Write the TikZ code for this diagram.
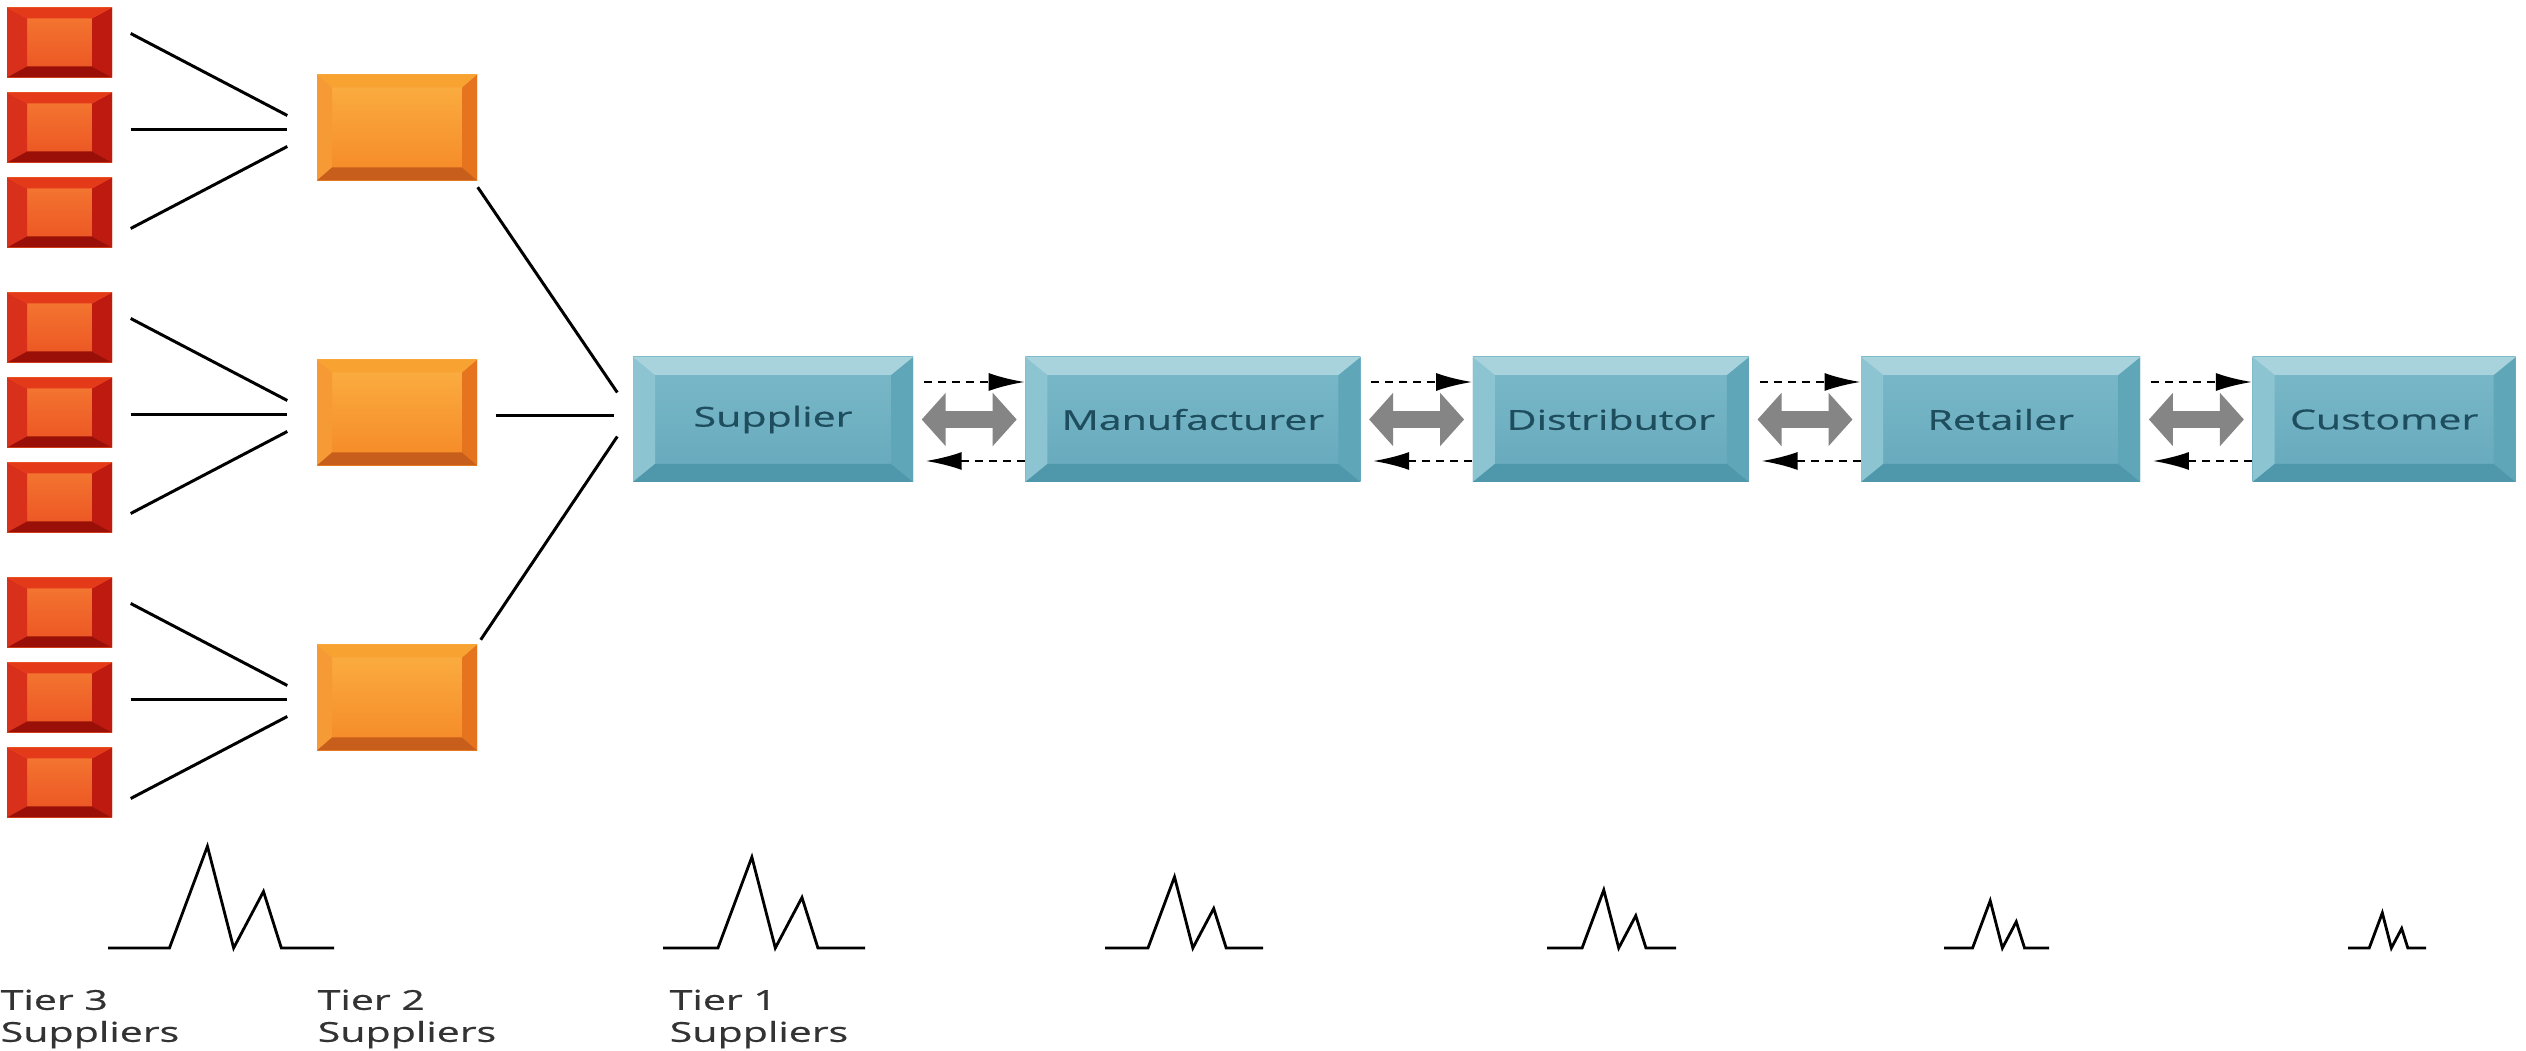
\documentclass[tikz,border=0pt]{standalone}
\usepackage{fontspec}
\newfontfamily\labelfont[FakeStretch=1.5,FakeBold=0.6]{Open Sans}
\usetikzlibrary{positioning,arrows.meta}

\definecolor{redfaceA}{HTML}{F47A32}
\definecolor{redfaceB}{HTML}{EC5222}
\definecolor{redtop}{HTML}{E43A1A}
\definecolor{redleft}{HTML}{D8301A}
\definecolor{redright}{HTML}{BE1A10}
\definecolor{redbottom}{HTML}{9A1008}
\definecolor{orfaceA}{HTML}{FBB042}
\definecolor{orfaceB}{HTML}{F58826}
\definecolor{ortop}{HTML}{F8A232}
\definecolor{orleft}{HTML}{F59A35}
\definecolor{orright}{HTML}{E6741E}
\definecolor{orbottom}{HTML}{C85E1C}
\definecolor{tealfaceA}{HTML}{7AB9C9}
\definecolor{tealfaceB}{HTML}{66A9BC}
\definecolor{tealtop}{HTML}{A8D3DD}
\definecolor{tealleft}{HTML}{8DC4D2}
\definecolor{tealright}{HTML}{5FA6B9}
\definecolor{tealbottom}{HTML}{4F98AB}
\definecolor{tealtext}{HTML}{1E4D5E}
\definecolor{flowgray}{HTML}{858585}
\definecolor{tiertext}{HTML}{333333}

% bevel: inset x, inset y, top, left, right, bottom
\newcommand\bevel[6]{%
  \coordinate (bNW) at (path picture bounding box.north west);
  \coordinate (bNE) at (path picture bounding box.north east);
  \coordinate (bSW) at (path picture bounding box.south west);
  \coordinate (bSE) at (path picture bounding box.south east);
  \fill[#4] (bNW) -- ([shift={(#1,#2)}]bNW) -- ([shift={(#1,-#2)}]bSW) -- (bSW) -- cycle;
  \fill[#5] (bNE) -- ([shift={(-#1,#2)}]bNE) -- ([shift={(-#1,-#2)}]bSE) -- (bSE) -- cycle;
  \fill[#3] (bNW) -- (bNE) -- ([shift={(-#1,#2)}]bNE) -- ([shift={(#1,#2)}]bNW) -- cycle;
  \fill[#6] (bSW) -- (bSE) -- ([shift={(-#1,-#2)}]bSE) -- ([shift={(#1,-#2)}]bSW) -- cycle;
}

\begin{document}
\begin{tikzpicture}[x=0.1mm,y=-0.1mm,node distance=11.1mm,
  redbox/.style={rectangle,inner sep=0,minimum width=10.5mm,minimum height=7mm,
    top color=redfaceA,bottom color=redfaceB,
    path picture={\bevel{20}{11}{redtop}{redleft}{redright}{redbottom}}},
  orangebox/.style={rectangle,inner sep=0,minimum width=16mm,minimum height=10.6mm,
    top color=orfaceA,bottom color=orfaceB,
    path picture={\bevel{15}{13}{ortop}{orleft}{orright}{orbottom}}},
  tealbox/.style={rectangle,inner sep=0,minimum height=12.5mm,
    top color=tealfaceA,bottom color=tealfaceB,text=tealtext,
    font=\labelfont\fontsize{7.8}{9}\selectfont,
    path picture={\bevel{22}{18}{tealtop}{tealleft}{tealright}{tealbottom}}},
  link/.style={draw=black,line width=0.85pt},
  peak/.style={draw=black,line width=0.8pt},
  info/.style={draw=black,line width=0.7pt,dash pattern=on 0.8mm off 0.6mm,
    -{Latex[length=3.6mm,width=1.8mm]}},
  twoway/.style={draw=flowgray,line width=1.7mm,
    {Triangle[length=2.4mm,width=5.2mm]}-{Triangle[length=2.4mm,width=5.2mm]}},
  tier/.style={anchor=north west,inner sep=0,align=left,text=tiertext,
    font=\labelfont\fontsize{7.8}{9.1}\selectfont}]
\fill[white] (0,0) rectangle (2526,1051);
\useasboundingbox (0,0) rectangle (2526,1051);

% tier 3 and tier 2 suppliers
\foreach \g in {0,1,2}{
  \node[orangebox] (o\g) at (397,{127.5+285*\g}) {};
  \foreach \k/\sa/\ea in {1/-9/-12,2/2/2,3/16/19}{
    \node[redbox] (r\g\k) at (59.5,{127.5+285*\g+85*(\k-2)}) {};
    \draw[link] ([shift={(18,\sa)}]r\g\k.east) -- ([shift={(-29,\ea)}]o\g.west);
  }
}

% the chain
\node[tealbox,minimum width=28mm] (sup) at (773,419.5) {Supplier};
\node[tealbox,minimum width=33.5mm,right=of sup] (man) {Manufacturer};
\node[tealbox,minimum width=27.6mm,right=of man] (dis) {Distributor};
\node[tealbox,minimum width=27.9mm,right=of dis] (ret) {Retailer};
\node[tealbox,minimum width=26.3mm,right=of ret] (cus) {Customer};

\draw[link] ([shift={(0,6)}]o0.south east) -- ([shift={(-15,-27)}]sup.west);
\draw[link] ([shift={(18,3)}]o1.east) -- ([shift={(-18,-4)}]sup.west);
\draw[link] ([shift={(3,-4)}]o2.north east) -- ([shift={(-15,17)}]sup.west);

\foreach \a/\b in {sup/man,man/dis,dis/ret,ret/cus}{
  \draw[twoway] ([xshift=0.8mm]\a.east) -- ([xshift=-0.8mm]\b.west);
  \draw[info] ([shift={(10,-37.5)}]\a.east) -- ([shift={(0,-37.5)}]\b.west);
  \draw[info] ([shift={(0,41.5)}]\b.west) -- ([shift={(12,41.5)}]\a.east);
}

% demand curves
\foreach \px/\pw in {108/226,663/202,1105/158,1547/129,1944/105,2348/78}
  \draw[peak,shift={(\px,948)},scale=\pw] (0,0) -- (0.272,0) -- (0.44,-0.45)
    -- (0.556,0) -- (0.688,-0.25) -- (0.767,0) -- (1,0);

\node[tier] (t3) at (0,989) {Tier 3\\Suppliers};
\node[tier] (t2) at (317,989) {Tier 2\\Suppliers};
\node[tier] (t1) at (669,989) {Tier 1\\Suppliers};
\end{tikzpicture}
\end{document}
